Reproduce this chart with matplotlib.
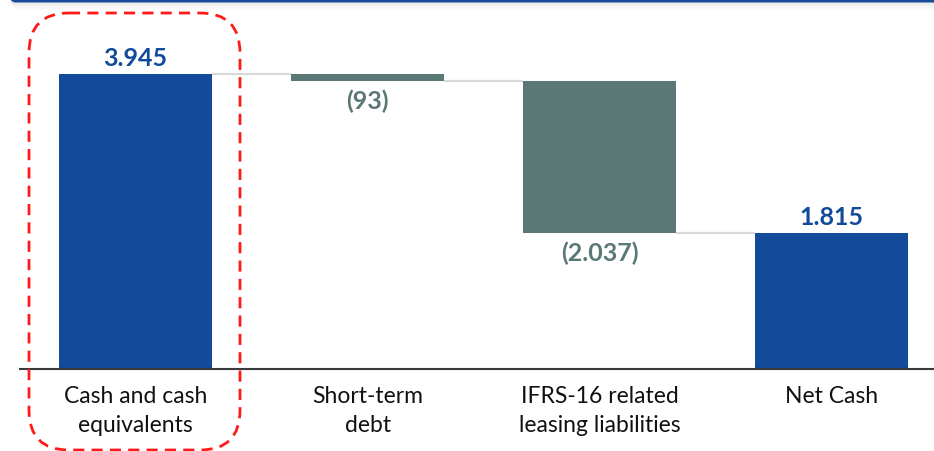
import matplotlib
matplotlib.use("Agg")
import matplotlib.pyplot as plt
from matplotlib.patches import FancyBboxPatch, Rectangle

plt.rcParams['font.family'] = ['Lato', 'DejaVu Sans']

categories = ["Cash and cash\nequivalents", "Short-term\ndebt",
              "IFRS-16 related\nleasing liabilities", "Net Cash"]
values = [3945, -93, -2037, 1815]
value_labels = ["3.945", "(93)", "(2.037)", "1.815"]
kinds = ["total", "delta", "delta", "total"]

BLUE = "#134a9a"
GREY = "#5a7876"
CONNECT = "#d9d9d9"

W, H = 934, 451
fig = plt.figure(figsize=(W / 100, H / 100), dpi=100)

# main waterfall axes: baseline at pixel row 369, x from pixel 20
ax = fig.add_axes([20 / W, (H - 369) / H, (W - 20) / W, 369 / H])
ax.set_xlim(-0.498, 3.44)
ax.set_ylim(0, 369 / (295 / 3945))
ax.axis("off")

bar_w = 0.66
running = 0
bottoms, tops = [], []
for i, (v, k) in enumerate(zip(values, kinds)):
    if k == "total":
        bottom, top = 0, v
        running = v
        color = BLUE
    else:
        bottom, top = running + v, running
        running = running + v
        color = GREY
    bottoms.append(bottom)
    tops.append(top)
    ax.bar(i, top - bottom, bottom=bottom, width=bar_w, color=color, zorder=3)

# connector lines between consecutive bars
levels = [tops[0], bottoms[1], bottoms[2]]
for i, lvl in enumerate(levels):
    ax.plot([i + bar_w / 2, i + 1 - bar_w / 2], [lvl, lvl], color=CONNECT,
            lw=1.6, zorder=2, solid_capstyle="butt")

# value labels
for i, (lab, k) in enumerate(zip(value_labels, kinds)):
    if k == "total":
        ax.annotate(lab, (i, tops[i]), xytext=(0, 3), textcoords="offset points",
                    ha="center", va="bottom", fontsize=18, fontweight="bold",
                    color=BLUE)
    else:
        ax.annotate(lab, (i, bottoms[i]), xytext=(0, -6), textcoords="offset points",
                    ha="center", va="top", fontsize=18, fontweight="bold",
                    color=GREY)

# baseline
ax.plot([-0.498, 3.44], [0, 0], color="#3a3a3a", lw=1.5, zorder=4, clip_on=False)

# category labels
for i, c in enumerate(categories):
    ax.annotate(c, (i, 0), xytext=(0, -12.5), textcoords="offset points",
                ha="center", va="top", fontsize=16.5, color="#111111",
                linespacing=1.42, annotation_clip=False)

# overlay in pixel coordinates for header strip and highlight frame
ov = fig.add_axes([0, 0, 1, 1], zorder=5)
ov.set_xlim(0, W)
ov.set_ylim(H, 0)
ov.axis("off")
ov.patch.set_alpha(0)

for j in range(8):
    ov.add_patch(Rectangle((10 + j, 2 + j), W, 1.2, color="#808080",
                           alpha=0.16 * (1 - j / 8), lw=0))
ov.add_patch(FancyBboxPatch((10, -8), W, 10.5,
                            boxstyle="round,pad=0,rounding_size=6",
                            fc="#174a9c", ec="none"))

frame = FancyBboxPatch((29, 13), 240 - 29, 450 - 13,
                       boxstyle="round,pad=0,rounding_size=40",
                       fc="none", ec="#ff1a1a", lw=2.0,
                       linestyle=(0, (4, 2.6)))
ov.add_patch(frame)

fig.savefig("out.png", dpi=100)
